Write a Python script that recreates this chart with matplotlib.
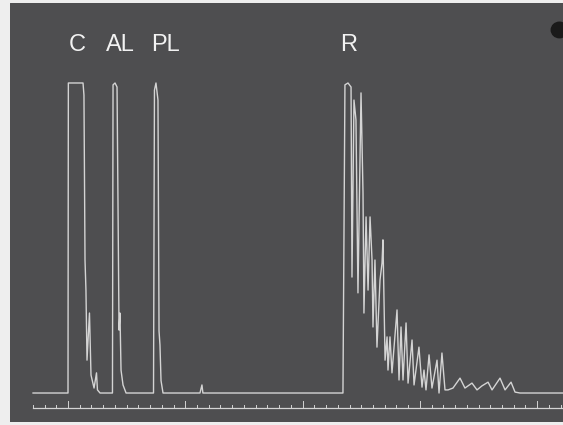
import matplotlib
matplotlib.use("Agg")
from matplotlib import pyplot as plt
from matplotlib.patches import Ellipse
import numpy as np

# trace: time (min) vs relative signal (0 = baseline, 1 = top)
time = [-2.98, 0.0, 0.03, 1.28, 1.36, 1.45, 1.53, 1.62, 1.83, 1.96, 2.22, 2.43, 2.51, 2.73,
        3.79, 3.84, 4.01, 4.18, 4.26, 4.35, 4.43, 4.52, 4.69, 4.95,
        7.29, 7.37, 7.50, 7.67, 7.76, 7.84, 7.93, 8.10,
        11.25, 11.42, 11.50,
        23.44, 23.61, 23.87, 24.13, 24.21, 24.38, 24.55, 24.72, 24.98, 25.15, 25.23,
        25.41, 25.58, 25.75, 25.92, 26.00, 26.17, 26.34, 26.60, 26.77, 26.85, 27.03,
        27.20, 27.28, 27.45, 27.62, 28.05, 28.22, 28.39, 28.56, 28.82, 28.99, 29.33,
        29.50, 29.92, 30.18, 30.35, 30.52, 30.78, 31.03, 31.46, 31.63, 31.88, 32.14,
        32.40, 32.82, 33.42, 33.84, 34.44, 34.87, 35.29, 35.81, 36.15, 36.83, 37.26,
        37.77, 38.11, 38.53, 42.20]
signal = [0.0, 0.0, 1.0, 1.0, 0.961, 0.429, 0.332, 0.106, 0.258, 0.058, 0.016, 0.065, 0.01, 0.0,
          0.0, 0.994, 1.0, 0.987, 0.62, 0.203, 0.258, 0.074, 0.026, 0.0,
          0.0, 0.977, 1.0, 0.945, 0.2, 0.155, 0.04, 0.0,
          0.0, 0.026, 0.0,
          0.0, 0.994, 1.0, 0.987, 0.374, 0.945, 0.881, 0.323, 0.968, 0.645, 0.258,
          0.568, 0.332, 0.568, 0.429, 0.213, 0.429, 0.148, 0.365, 0.419, 0.494, 0.106,
          0.181, 0.074, 0.181, 0.065, 0.268, 0.042, 0.213, 0.042, 0.226, 0.032, 0.171,
          0.026, 0.148, 0.019, 0.074, 0.01, 0.123, 0.016, 0.106, 0.0, 0.129, 0.01,
          0.01, 0.016, 0.048, 0.016, 0.032, 0.01, 0.023, 0.035, 0.01, 0.048, 0.01,
          0.035, 0.003, 0.0, 0.0]

peak_labels = ["C", "AL", "PL", "R"]
peak_label_x = [0.77, 4.43, 8.35, 23.96]

bg = "#4e4e50"
fg = "#d4d4d4"

fig = plt.figure(figsize=(5.63, 4.25), dpi=100, facecolor="#eeeeee")
ax = fig.add_axes([10 / 563, 3 / 425, 553 / 563, 419 / 425])
ax.set_facecolor(bg)
ax.set_xlim(-4.945, 42.2)
ax.set_ylim(-0.0935, 1.258)
ax.axis("off")
ax.add_patch(plt.Rectangle((0, 0), 1, 1, transform=ax.transAxes, color=bg, zorder=0))

ax.plot(time, signal, color=fg, lw=1.0, zorder=3)

# time ruler along the bottom
ruler_y = -0.0484
ax.plot([-2.98, 42.2], [ruler_y, ruler_y], color=fg, lw=0.9)
for t in np.arange(-3, 43):
    h = 0.022 if t % 10 == 0 else 0.01
    ax.plot([t, t], [ruler_y, ruler_y + h], color=fg, lw=0.7)

for lab, x in zip(peak_labels, peak_label_x):
    ax.text(x, 1.124, lab, color="#f2f2f2", fontsize=17, family="Liberation Sans",
            ha="center", va="center")

ax.add_patch(Ellipse((41.9, 1.171), 1.4, 0.05, color="#1a1a1a", zorder=4))

fig.savefig("out.png", dpi=100, facecolor=fig.get_facecolor())
